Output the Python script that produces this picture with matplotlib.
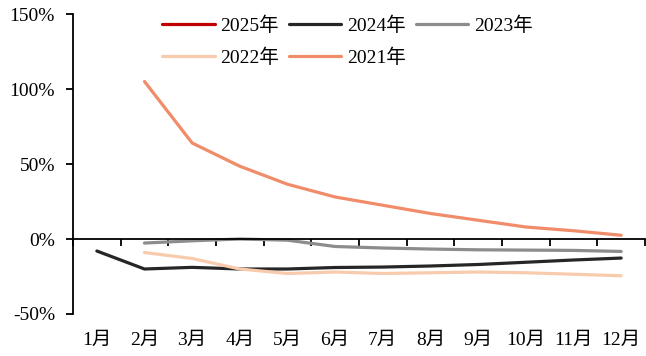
import numpy as np
import matplotlib
matplotlib.use("Agg")
import matplotlib.pyplot as plt
from matplotlib.ticker import FuncFormatter, FixedLocator

plt.rcParams['font.family'] = ['Liberation Serif', 'Noto Sans CJK SC']

months = ['1月', '2月', '3月', '4月', '5月', '6月', '7月', '8月', '9月', '10月', '11月', '12月']

# Cumulative year-on-year change (%), NaN where no data
y2025 = [np.nan] * 12
y2024 = [-8, -20, -18.9, -20, -20, -19, -18.7, -18, -17, -15.5, -14, -12.7]
y2023 = [np.nan, -2.7, -1.2, 0, -0.8, -5, -6, -6.7, -7.2, -7.4, -7.6, -8.3]
y2022 = [np.nan, -9, -13, -20, -23, -22, -23, -22.5, -22, -22.5, -23.5, -24.5]
y2021 = [np.nan, 105, 64, 48.5, 36.5, 28, 22.5, 17, 12.5, 8, 5.5, 2.5]

series = [
    ('2025年', y2025, '#C00000'),
    ('2024年', y2024, '#262626'),
    ('2023年', y2023, '#8C8C8C'),
    ('2022年', y2022, '#F8CBAD'),
    ('2021年', y2021, '#F08C6A'),
]

FS = 14

fig = plt.figure(figsize=(6.46, 3.56), dpi=100)
ax = fig.add_axes([73 / 646, 1 - 314 / 356, 572 / 646, 300 / 356])

x = np.arange(len(months))
handles = {}
for label, vals, color in series:
    h, = ax.plot(x, vals, color=color, lw=2.3, label=label, solid_capstyle='round')
    handles[label] = h

ax.set_xlim(-0.5, len(months) - 0.5)
ax.set_ylim(-50, 150)
ax.set_yticks([-50, 0, 50, 100, 150])
ax.yaxis.set_major_formatter(FuncFormatter(lambda v, p: f'{v:.0f}%'))

ax.spines['top'].set_visible(False)
ax.spines['right'].set_visible(False)
ax.spines['bottom'].set_position(('data', 0))
for s in ('left', 'bottom'):
    ax.spines[s].set_linewidth(1.3)

ax.xaxis.set_major_locator(FixedLocator(np.arange(-0.5, len(months), 1.0)))
ax.xaxis.set_major_formatter(FuncFormatter(lambda v, p: ''))
ax.xaxis.set_minor_locator(FixedLocator(x))
ax.set_xticklabels(months, minor=True)
ax.tick_params(axis='x', which='major', direction='out', length=5, width=1.3)
ax.tick_params(axis='x', which='minor', length=0, pad=67, labelsize=FS)
ax.tick_params(axis='y', direction='out', length=5, width=1.3, labelsize=FS, pad=8)

order = ['2025年', '2022年', '2024年', '2021年', '2023年']
ax.legend([handles[k] for k in order], order, ncol=3, loc='upper left',
          bbox_to_anchor=(0.125, 1.05), frameon=False, fontsize=FS,
          handlelength=2.7, handletextpad=0.3, columnspacing=0.5,
          labelspacing=0.7)

fig.savefig('out.png', dpi=100)
